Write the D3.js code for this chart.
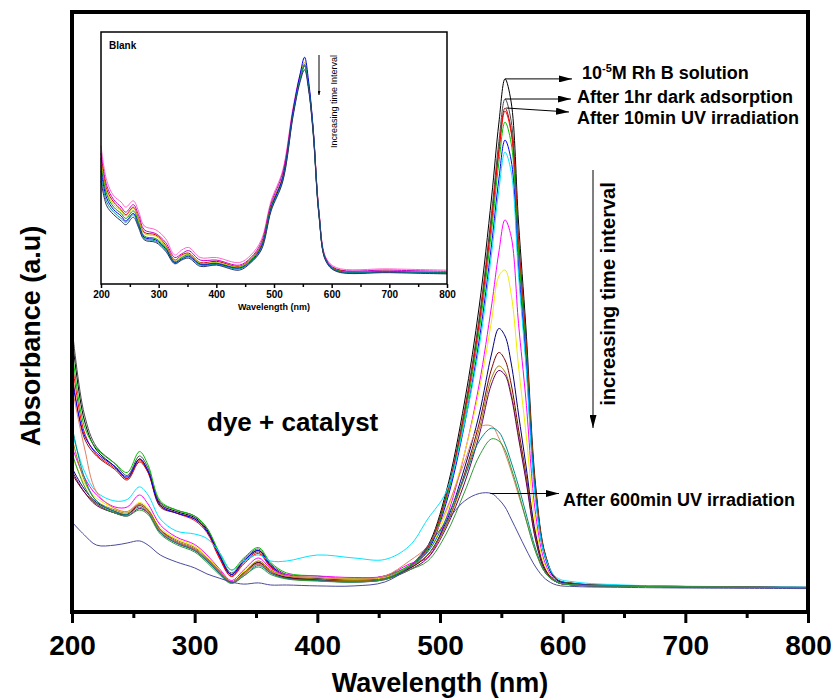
<!DOCTYPE html>
<html>
<head>
<meta charset="utf-8">
<script src="https://cdn.jsdelivr.net/npm/d3@7"></script>
<style>
  body { margin: 0; background: #fff; }
  text { font-family: "Liberation Sans", Arial, sans-serif; }
</style>
</head>
<body>
<div id="chart"></div>
<script>
// main spectra: dye + catalyst
const wavelengths = [200, 210, 220, 235, 245, 255, 262, 272, 285, 300, 310, 320, 330, 340, 352, 362, 375, 400, 430, 455, 475,
  490, 505, 520, 532, 542, 548, 553, 558, 564, 570, 578, 586, 595, 610, 650, 700, 800];

const rhbSolution = [.92, .64, .54, .485, .445, .51, .47, .36, .335, .315, .275, .19, .125, .17, .205, .155, .12, .11, .105, .115, .15,
  .22, .40, .70, 1.02, 1.38, 1.63, 1.777, 1.70, 1.30, .95, .42, .19, .11, .095, .088, .085, .082];
const darkAdsorption = [.95, .66, .55, .495, .455, .52, .48, .365, .34, .32, .28, .195, .13, .175, .21, .16, .125, .115, .11, .12, .155,
  .215, .388, .675, .983, 1.329, 1.568, 1.71, 1.637, 1.252, .916, .406, .186, .109, .095, .088, .085, .082];
const uv10 = [.80, .58, .52, .475, .44, .50, .465, .35, .33, .31, .27, .185, .12, .165, .20, .15, .12, .11, .105, .115, .15,
  .213, .382, .664, .966, 1.306, 1.541, 1.68, 1.608, 1.23, .901, .40, .184, .109, .094, .088, .085, .082];
const uv20 = [.84, .60, .525, .48, .445, .505, .465, .355, .33, .305, .265, .18, .118, .16, .195, .15, .118, .108, .105, .113, .148,
  .212, .381, .66, .961, 1.298, 1.532, 1.67, 1.598, 1.223, .896, .398, .183, .108, .094, .088, .085, .082];
const uv30 = [.88, .62, .545, .495, .465, .535, .49, .37, .34, .32, .28, .20, .14, .18, .215, .165, .13, .12, .11, .12, .155,
  .209, .374, .647, .94, 1.27, 1.498, 1.633, 1.563, 1.197, .877, .391, .181, .108, .094, .087, .084, .081];
const uv40 = [.78, .59, .53, .485, .45, .51, .47, .355, .33, .31, .27, .19, .125, .17, .205, .155, .12, .11, .105, .115, .15,
  .204, .362, .625, .907, 1.224, 1.443, 1.573, 1.506, 1.153, .846, .379, .177, .107, .093, .087, .084, .081];
const uv60 = [.60, .47, .40, .37, .375, .417, .39, .31, .27, .26, .245, .20, .14, .17, .19, .17, .17, .19, .18, .175, .22,
  .31, .40, .63, .885, 1.193, 1.407, 1.533, 1.468, 1.125, .825, .371, .18, .115, .10, .09, .086, .083];
const uv90 = [.55, .45, .39, .35, .35, .39, .36, .29, .25, .225, .19, .145, .105, .14, .18, .145, .125, .12, .115, .12, .16,
  .182, .312, .528, .76, 1.02, 1.20, 1.307, 1.252, .962, .71, .325, .16, .102, .091, .086, .084, .081];
const uv120 = [.52, .43, .38, .345, .335, .365, .345, .28, .245, .22, .185, .14, .10, .135, .17, .14, .12, .115, .11, .115, .15,
  .20, .33, .53, .74, .97, 1.12, 1.14, 1.06, .82, .60, .29, .15, .10, .09, .086, .084, .081];
const uv150 = [.48, .41, .365, .335, .325, .36, .34, .275, .235, .21, .175, .135, .10, .13, .165, .135, .115, .11, .105, .11, .145,
  .19, .30, .48, .66, .86, .945, .92, .83, .66, .49, .26, .14, .10, .09, .086, .084, .081];
const uv180 = [.46, .40, .36, .33, .325, .355, .335, .27, .235, .21, .175, .135, .10, .13, .165, .135, .115, .108, .104, .11, .145,
  .19, .29, .46, .63, .81, .865, .84, .76, .61, .46, .25, .14, .10, .09, .086, .084, .081];
const uv210 = [.58, .44, .37, .34, .33, .36, .34, .275, .24, .215, .18, .14, .10, .13, .17, .14, .12, .11, .105, .112, .15,
  .19, .29, .45, .61, .78, .82, .80, .73, .59, .45, .24, .135, .10, .09, .086, .084, .081];
const uv240 = [.47, .40, .355, .33, .32, .345, .33, .265, .23, .205, .17, .13, .098, .125, .16, .13, .112, .105, .10, .108, .14,
  .18, .28, .43, .59, .76, .805, .79, .72, .58, .44, .24, .135, .10, .09, .086, .084, .081];
const uv300 = [.75, .55, .40, .345, .335, .36, .335, .27, .235, .21, .175, .135, .10, .125, .16, .135, .12, .115, .11, .12, .17,
  .22, .34, .50, .615, .62, .58, .53, .47, .39, .31, .20, .13, .10, .09, .086, .084, .081];
const uv360 = [.62, .45, .37, .335, .325, .35, .33, .265, .23, .205, .17, .13, .097, .12, .155, .13, .112, .105, .10, .11, .15,
  .20, .31, .45, .57, .613, .60, .56, .50, .42, .33, .21, .13, .10, .09, .086, .084, .081];
const uv480 = [.53, .42, .36, .33, .32, .34, .325, .26, .225, .20, .165, .125, .095, .12, .15, .125, .11, .103, .10, .108, .14,
  .17, .26, .40, .52, .577, .57, .54, .48, .40, .31, .20, .13, .10, .09, .086, .084, .081];
const uv600 = [.30, .257, .223, .223, .23, .237, .223, .19, .167, .147, .127, .113, .10, .093, .097, .09, .09, .087, .087, .10, .15,
  .22, .30, .37, .395, .395, .375, .35, .31, .26, .21, .15, .11, .09, .085, .082, .08, .078];

const mainSeries = [rhbSolution, darkAdsorption, uv10, uv20, uv30, uv40, uv60, uv90, uv120,
  uv150, uv180, uv210, uv240, uv300, uv360, uv480, uv600];
const mainColors = ['#000000', '#4d4d4d', '#8b1a1a', '#ff0000', '#00c000', '#0000ff', '#00e5ff', '#ff00ff', '#eeee00',
  '#000080', '#800000', '#a08000', '#660066', '#e08060', '#008888', '#339933', '#4b4b9b'];

// inset spectra: blank
const insetWavelengths = [200, 210, 222, 235, 243, 256, 265, 275, 295, 312, 328, 340, 352, 372, 400, 440, 460, 478, 495, 515,
  533, 545, 553, 560, 568, 578, 590, 608, 700, 800];
const blank1 = [1.10, .82, .70, .65, .61, .66, .58, .46, .43, .36, .23, .27, .29, .21, .21, .17, .23, .35, .66, .90, 1.40, 1.66, 1.76, 1.58, 1.23, .58, .21, .13, .12, .11];
const blank2 = [1.04, .78, .67, .61, .57, .63, .55, .43, .40, .33, .21, .24, .265, .19, .19, .15, .21, .33, .64, .88, 1.38, 1.64, 1.74, 1.57, 1.22, .57, .20, .12, .11, .10];
const blank3 = [1.00, .75, .65, .59, .55, .61, .52, .41, .39, .31, .19, .23, .245, .17, .18, .14, .20, .31, .62, .85, 1.36, 1.62, 1.73, 1.56, 1.21, .56, .19, .115, .10, .09];
const blank4 = [.97, .73, .63, .58, .54, .60, .51, .40, .38, .30, .18, .22, .235, .165, .17, .135, .195, .30, .61, .84, 1.36, 1.63, 1.76, 1.58, 1.22, .56, .19, .11, .10, .09];
const blank5 = [.94, .71, .61, .56, .52, .58, .49, .38, .36, .29, .175, .21, .23, .16, .165, .13, .19, .30, .61, .84, 1.35, 1.62, 1.74, 1.57, 1.21, .55, .19, .11, .10, .09];
const blank6 = [.90, .68, .59, .54, .50, .56, .47, .37, .35, .28, .17, .20, .22, .155, .16, .125, .18, .29, .60, .84, 1.37, 1.66, 1.80, 1.61, 1.23, .56, .19, .105, .095, .085];
const blank7 = [.86, .65, .57, .52, .49, .55, .46, .36, .34, .27, .165, .195, .215, .15, .155, .12, .175, .28, .59, .82, 1.34, 1.62, 1.73, 1.56, 1.20, .55, .185, .105, .095, .085];
const blank8 = [.82, .62, .55, .50, .47, .53, .45, .35, .33, .26, .16, .19, .205, .14, .15, .11, .17, .27, .58, .81, 1.33, 1.60, 1.70, 1.54, 1.19, .54, .18, .10, .09, .08];

const insetSeries = [blank1, blank2, blank3, blank4, blank5, blank6, blank7, blank8];
const insetColors = ['#ff66cc', '#cc00cc', '#cc0000', '#cccc00', '#009900', '#0000ee', '#009999', '#333366'];

const xTicks = [200, 300, 400, 500, 600, 700, 800];
const xMinorTicks = [250, 350, 450, 550, 650, 750];

const width = 837, height = 700;
const plot = { left: 72, right: 808, top: 12, bottom: 612 };

const svg = d3.select('#chart').append('svg')
  .attr('width', width)
  .attr('height', height);

const defs = svg.append('defs');
defs.append('clipPath').attr('id', 'plotClip')
  .append('rect')
  .attr('x', plot.left).attr('y', plot.top)
  .attr('width', plot.right - plot.left).attr('height', plot.bottom - plot.top);

function addHead(id, len, wid) {
  defs.append('marker')
    .attr('id', id)
    .attr('viewBox', `0 0 ${len} ${wid}`)
    .attr('refX', len).attr('refY', wid / 2)
    .attr('markerWidth', len).attr('markerHeight', wid)
    .attr('markerUnits', 'userSpaceOnUse')
    .attr('orient', 'auto')
    .append('path')
    .attr('d', `M0,0L${len},${wid / 2}L0,${wid}Z`)
    .attr('fill', '#000');
}
addHead('head', 13, 7);
addHead('headSmall', 4, 3);

const x = d3.scaleLinear().domain([200, 800]).range([plot.left, plot.right]);
const y = d3.scaleLinear().domain([0, 2]).range([plot.bottom, plot.top]);

const line = d3.line()
  .x((d, i) => x(wavelengths[i]))
  .y(d => y(d))
  .curve(d3.curveCatmullRom.alpha(0.5));

svg.append('g').attr('clip-path', 'url(#plotClip)')
  .selectAll('path')
  .data(mainSeries)
  .enter()
  .append('path')
  .attr('d', d => line(d))
  .attr('fill', 'none')
  .attr('stroke', (d, i) => mainColors[i])
  .attr('stroke-width', 1);

// x axis
const xAxis = svg.append('g')
  .attr('transform', `translate(0,${plot.bottom})`)
  .call(d3.axisBottom(x).tickValues(xTicks).tickSize(11).tickPadding(12).tickSizeOuter(0));
xAxis.select('.domain').remove();
xAxis.selectAll('line').attr('stroke', '#000').attr('stroke-width', 3);
xAxis.selectAll('text')
  .attr('font-size', 28)
  .attr('font-weight', 'bold')
  .attr('fill', '#000');

const xMinor = svg.append('g')
  .attr('transform', `translate(0,${plot.bottom})`)
  .call(d3.axisBottom(x).tickValues(xMinorTicks).tickSize(6).tickFormat(''));
xMinor.select('.domain').remove();
xMinor.selectAll('line').attr('stroke', '#000').attr('stroke-width', 3);

// frame
svg.append('rect')
  .attr('x', plot.left).attr('y', plot.top)
  .attr('width', plot.right - plot.left).attr('height', plot.bottom - plot.top)
  .attr('fill', 'none')
  .attr('stroke', '#000')
  .attr('stroke-width', 4);

svg.append('text')
  .attr('x', 440).attr('y', 692)
  .attr('text-anchor', 'middle')
  .attr('font-size', 27).attr('font-weight', 'bold')
  .text('Wavelength (nm)');

svg.append('text')
  .attr('transform', 'translate(40,336) rotate(-90)')
  .attr('text-anchor', 'middle')
  .attr('font-size', 27).attr('font-weight', 'bold')
  .text('Absorbance (a.u)');

svg.append('text')
  .attr('x', 207).attr('y', 431)
  .attr('font-size', 26).attr('font-weight', 'bold')
  .text('dye + catalyst');

// annotations
const notes = [
  { series: rhbSolution, wl: 553, x2: 572, dy2: 0, tx: 582, ty: 79 },
  { series: darkAdsorption, wl: 553, x2: 571, dy2: 0, tx: 577, ty: 103 },
  { series: uv10, wl: 554, x2: 569, dy2: 4, tx: 577, ty: 124 },
  { series: uv600, wl: 541, x2: 559, dy2: 0, tx: 563, ty: 506 }
];
const noteLabels = [null, 'After 1hr dark adsorption', 'After 10min UV irradiation', 'After 600min UV irradiation'];

notes.forEach((n, i) => {
  const y1 = y(d3.max(n.series));
  svg.append('line')
    .attr('x1', x(n.wl)).attr('y1', y1)
    .attr('x2', n.x2).attr('y2', y1 + n.dy2)
    .attr('stroke', '#000').attr('stroke-width', 1)
    .attr('marker-end', 'url(#head)');
  const t = svg.append('text')
    .attr('x', n.tx).attr('y', n.ty)
    .attr('font-size', 18).attr('font-weight', 'bold');
  if (i === 0) {
    t.append('tspan').text('10');
    t.append('tspan').attr('dy', -7).attr('font-size', 11).text('-5');
    t.append('tspan').attr('dy', 7).text('M Rh B solution');
  } else {
    t.text(noteLabels[i]);
  }
});

svg.append('line')
  .attr('x1', 593).attr('y1', 170)
  .attr('x2', 593).attr('y2', 428)
  .attr('stroke', '#000').attr('stroke-width', 1)
  .attr('marker-end', 'url(#head)');

svg.append('text')
  .attr('transform', 'translate(615,294) rotate(-90)')
  .attr('text-anchor', 'middle')
  .attr('font-size', 20).attr('font-weight', 'bold')
  .text('increasing time interval');

// inset
const inset = { left: 101, right: 447, top: 32, bottom: 284 };
const ix = d3.scaleLinear().domain([200, 800]).range([inset.left, inset.right]);
const iy = d3.scaleLinear().domain([0, 2]).range([inset.bottom, inset.top]);

svg.append('rect')
  .attr('x', inset.left).attr('y', inset.top)
  .attr('width', inset.right - inset.left).attr('height', inset.bottom - inset.top)
  .attr('fill', '#fff');

const iline = d3.line()
  .x((d, i) => ix(insetWavelengths[i]))
  .y(d => iy(d))
  .curve(d3.curveCatmullRom.alpha(0.5));

svg.append('g')
  .selectAll('path')
  .data(insetSeries)
  .enter()
  .append('path')
  .attr('d', d => iline(d))
  .attr('fill', 'none')
  .attr('stroke', (d, i) => insetColors[i])
  .attr('stroke-width', 1);

const ixAxis = svg.append('g')
  .attr('transform', `translate(0,${inset.bottom})`)
  .call(d3.axisBottom(ix).tickValues(xTicks).tickSize(4).tickPadding(3).tickSizeOuter(0));
ixAxis.select('.domain').remove();
ixAxis.selectAll('line').attr('stroke', '#000').attr('stroke-width', 1.5);
ixAxis.selectAll('text')
  .attr('font-size', 10)
  .attr('font-weight', 'bold')
  .attr('fill', '#000');

const ixMinor = svg.append('g')
  .attr('transform', `translate(0,${inset.bottom})`)
  .call(d3.axisBottom(ix).tickValues(xMinorTicks).tickSize(3).tickFormat(''));
ixMinor.select('.domain').remove();
ixMinor.selectAll('line').attr('stroke', '#000').attr('stroke-width', 1.5);

svg.append('rect')
  .attr('x', inset.left).attr('y', inset.top)
  .attr('width', inset.right - inset.left).attr('height', inset.bottom - inset.top)
  .attr('fill', 'none')
  .attr('stroke', '#000')
  .attr('stroke-width', 1.5);

svg.append('text')
  .attr('x', (inset.left + inset.right) / 2).attr('y', 310)
  .attr('text-anchor', 'middle')
  .attr('font-size', 9).attr('font-weight', 'bold')
  .text('Wavelength (nm)');

svg.append('text')
  .attr('x', 109).attr('y', 49)
  .attr('font-size', 10).attr('font-weight', 'bold')
  .text('Blank');

svg.append('line')
  .attr('x1', 319).attr('y1', 55)
  .attr('x2', 319).attr('y2', 95)
  .attr('stroke', '#000').attr('stroke-width', 1)
  .attr('marker-end', 'url(#headSmall)');

svg.append('text')
  .attr('transform', 'translate(337,148) rotate(-90)')
  .attr('font-size', 9)
  .text('Increasing time Interval');
</script>
</body>
</html>
